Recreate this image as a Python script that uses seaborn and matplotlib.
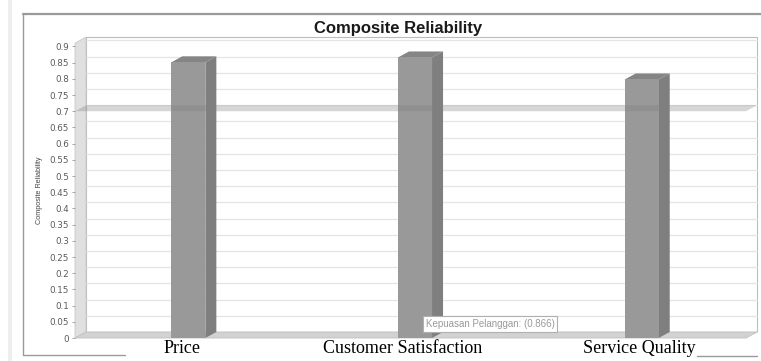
import numpy as np
import pandas as pd
import seaborn as sns
import matplotlib.pyplot as plt
import matplotlib.transforms as mtrans
from matplotlib.patches import Polygon, Rectangle
from matplotlib.lines import Line2D

# --- data -------------------------------------------------------------
categories = ["Price", "Customer Satisfaction", "Service Quality"]
reliability = [0.851, 0.866, 0.798]
threshold = 0.7
y_ticks = [0, 0.05, 0.1, 0.15, 0.2, 0.25, 0.3, 0.35, 0.4, 0.45,
           0.5, 0.55, 0.6, 0.65, 0.7, 0.75, 0.8, 0.85, 0.9]
tooltip_text = "Kepuasan Pelanggan: (0.866)"

df = pd.DataFrame({"construct": categories, "value": reliability})

sns.set_theme(style="white")
plt.rcParams["font.family"] = ["Liberation Sans", "DejaVu Sans"]

W, H = 761, 361
fig = plt.figure(figsize=(W / 100, H / 100), dpi=100)

# front plane of the 3D plot area, in pixels
x_front_l, x_front_r = 75, 746
y_zero, y_top = 338, 43.2
DX, DY = 11, 6  # depth offset of the back wall (right / up)

ax = fig.add_axes([x_front_l / W, (H - y_zero) / H,
                   (x_front_r - x_front_l) / W, (y_zero - y_top) / H])
ax.patch.set_visible(False)
for s in ax.spines.values():
    s.set_visible(False)

sns.barplot(data=df, x="construct", y="value", color="#999999",
            width=0.15, saturation=1, ax=ax, zorder=3, edgecolor="none")
ax.set_xlim(-0.5, 2.46)
ax.set_ylim(0, 0.91)
fig.canvas.draw()


def px(xp, yp):
    """pixel (top-left origin) -> figure fraction"""
    return (xp / W, (H - yp) / H)


def d2px(x, y):
    X, Y = ax.transData.transform((x, y))
    return X, H - Y


def poly(points, **kw):
    p = Polygon([px(a, b) for a, b in points], closed=True,
                transform=fig.transFigure, **kw)
    fig.patches.append(p)
    return p


# back wall
poly([(x_front_l + DX, y_top - DY), (x_front_r + DX, y_top - DY),
      (x_front_r + DX, y_zero - DY), (x_front_l + DX, y_zero - DY)],
     facecolor="white", edgecolor="#bcbcbc", lw=0.8, zorder=0)

# gridlines on the back wall
for t in y_ticks:
    _, yp = d2px(0, t)
    fig.lines.append(Line2D([(x_front_l + DX) / W, (x_front_r + DX) / W],
                            [(H - yp + DY) / H] * 2, transform=fig.transFigure,
                            color="#e4e4e4", lw=0.9, zorder=0.5))

# left side wall
poly([(x_front_l, y_zero), (x_front_l, y_top), (x_front_l + DX, y_top - DY),
      (x_front_l + DX, y_zero - DY)],
     facecolor="#e0e0e0", edgecolor="#c8c8c8", lw=0.6, zorder=0.6)

# floor
poly([(x_front_l, y_zero), (x_front_r, y_zero), (x_front_r + DX, y_zero - DY),
      (x_front_l + DX, y_zero - DY)],
     facecolor="#d2d2d2", edgecolor="#c0c0c0", lw=0.6, zorder=0.7)

# 3D depth of each bar: side and top faces
for bar in ax.patches:
    x0, w, h = bar.get_x(), bar.get_width(), bar.get_height()
    lx, ty = d2px(x0, h)
    rx, by = d2px(x0 + w, 0)
    poly([(rx, by), (rx, ty), (rx + DX, ty - DY), (rx + DX, by - DY)],
         facecolor="#7f7f7f", edgecolor="none", zorder=1)
    poly([(lx, ty), (rx, ty), (rx + DX, ty - DY), (lx + DX, ty - DY)],
         facecolor="#858585", edgecolor="none", zorder=1)

# front faces above the depth faces
for bar in ax.patches:
    bar.set_zorder(3)
ax.set_zorder(2)

# threshold marker band
_, yt = d2px(0, threshold)
poly([(x_front_l, yt), (x_front_r, yt), (x_front_r + DX, yt - DY),
      (x_front_l + DX, yt - DY)],
     facecolor="#808080", alpha=0.32, edgecolor="none", zorder=5)

# axis ticks and labels
ax.set_yticks(y_ticks)
ax.set_yticklabels([f"{t:g}" for t in y_ticks], fontsize=6.3, color="#5a5a5a",
                   family=["DejaVu Sans"])
ax.tick_params(axis="y", left=True, length=2.5, width=0.6, color="#999999", pad=2)
ax.tick_params(axis="x", bottom=False, pad=0)
ax.set_xticks(range(len(categories)))
ax.set_xticklabels(categories, fontsize=13, color="black",
                   family=["Liberation Serif"])
ax.set_xlabel("")
ax.set_ylabel("Composite Reliability", fontsize=5.2, color="#444444")
ax.yaxis.set_label_coords((43 - x_front_l) / (x_front_r - x_front_l), 0.5)

# category labels sit a little left of the bar centres and tight to the floor
for lbl, dxp in zip(ax.get_xticklabels(), [-6, -12, -2]):
    lbl.set_transform(lbl.get_transform() +
                      mtrans.ScaledTranslation(dxp / 100, 6 / 100, fig.dpi_scale_trans))

# title
fig.text(398 / W, 1 - 28 / H, "Composite Reliability", ha="center", va="center",
         fontsize=12, fontweight="bold", color="#1a1a1a")

# panel frame
def hline(y, x0, x1, color="#9a9a9a", lw=1.2):
    fig.lines.append(Line2D([x0 / W, x1 / W], [(H - y) / H] * 2,
                            transform=fig.transFigure, color=color, lw=lw))

def vline(x, y0, y1, color="#9a9a9a", lw=1.0):
    fig.lines.append(Line2D([x / W, x / W], [(H - y0) / H, (H - y1) / H],
                            transform=fig.transFigure, color=color, lw=lw))

hline(14, 23, W, lw=1.6)
vline(23, 14, 355, lw=1.0)
hline(355, 23, 125, lw=1.0)
hline(356, 697, 757, lw=1.0)
fig.patches.append(Rectangle((8 / W, 0), 4 / W, 1, transform=fig.transFigure,
                             facecolor="#eeeeee", edgecolor="none"))

# hover tooltip
fig.text(490 / W, 1 - 324 / H, tooltip_text, ha="center", va="center",
         fontsize=7, color="#9a9a9a", zorder=10,
         bbox=dict(boxstyle="square,pad=0.3", facecolor="white",
                   edgecolor="#b0b0b0", lw=0.8))

fig.savefig("out.png", dpi=100)
